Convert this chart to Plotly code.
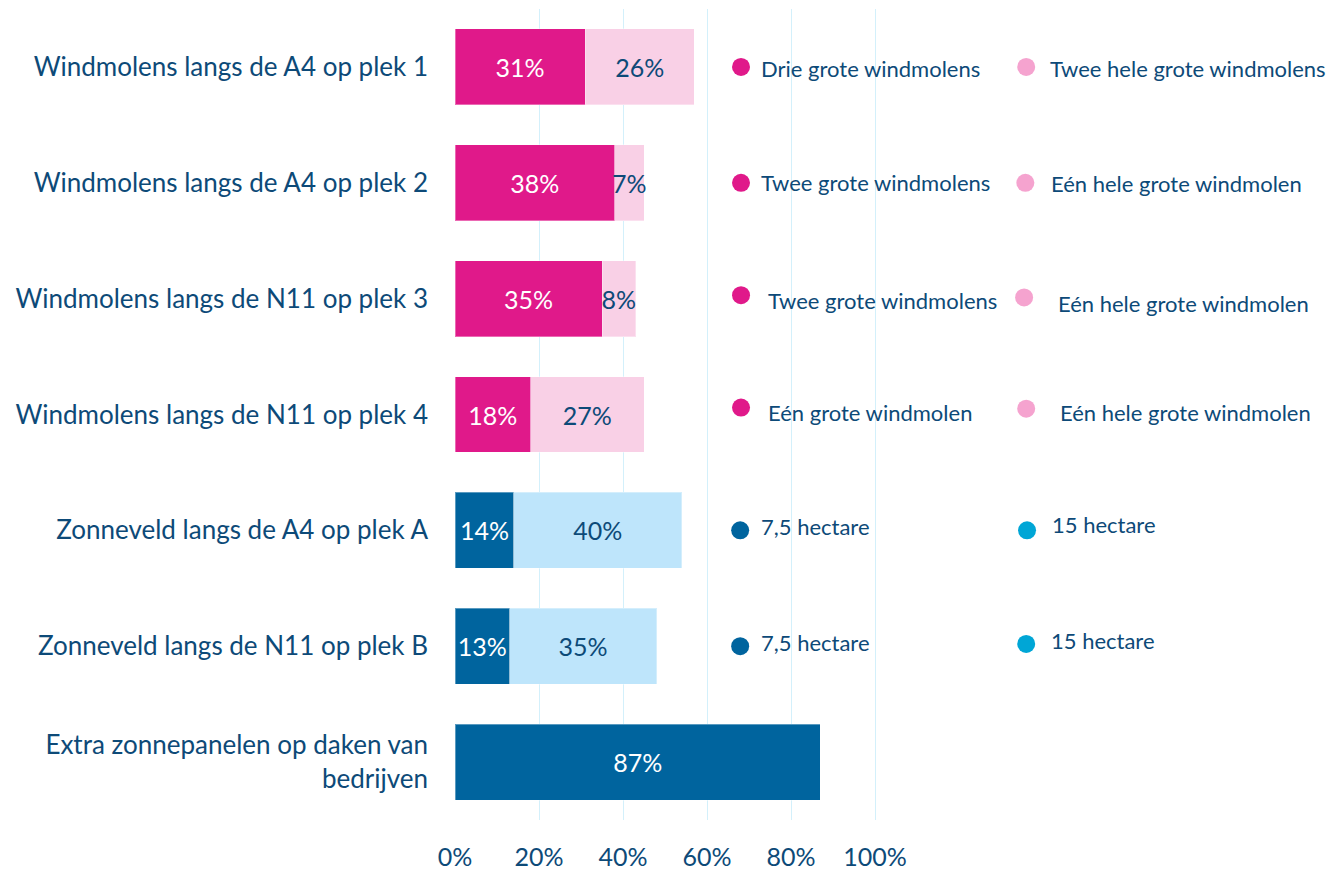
import plotly.graph_objects as go

categories = [
    "Windmolens langs de A4 op plek 1",
    "Windmolens langs de A4 op plek 2",
    "Windmolens langs de N11 op plek 3",
    "Windmolens langs de N11 op plek 4",
    "Zonneveld langs de A4 op plek A",
    "Zonneveld langs de N11 op plek B",
    "Extra zonnepanelen op daken van<br>bedrijven",
]
dark_values = [31, 38, 35, 18, 14, 13, 87]
light_values = [26, 7, 8, 27, 40, 35, None]
dark_option_labels = ["Drie grote windmolens", "Twee grote windmolens", "Twee grote windmolens",
                      "Eén grote windmolen", "7,5 hectare", "7,5 hectare", None]
light_option_labels = ["Twee hele grote windmolens", "Eén hele grote windmolen", "Eén hele grote windmolen",
                       "Eén hele grote windmolen", "15 hectare", "15 hectare", None]
tick_values = [0, 20, 40, 60, 80, 100]
tick_labels = ["0%", "20%", "40%", "60%", "80%", "100%"]

# styling
MAGENTA, PINK_BAR, PINK_DOT = "#e0198a", "#f9d0e6", "#f5a3cf"
BLUE, LBLUE_BAR, CYAN_DOT = "#00649e", "#bee5fb", "#00a6d6"
TEXT = "#0d4a78"
GRID = "#d3f0fb"
FONT = "Source Sans Pro, Lato, sans-serif"

kinds = ["wind", "wind", "wind", "wind", "sun", "sun", "sun"]
dark_colors = [MAGENTA if k == "wind" else BLUE for k in kinds]
light_colors = [PINK_BAR if k == "wind" else LBLUE_BAR for k in kinds]
dot_dark_colors = [MAGENTA if k == "wind" else BLUE for k in kinds]
dot_light_colors = [PINK_DOT if k == "wind" else CYAN_DOT for k in kinds]
light_text_colors = [TEXT for _ in kinds]

# legend layout positions (x in axis %, y offsets in category units)
dot1_x = [68.1, 68.1, 68.1, 68.1, 67.9, 67.9]
dot2_x = [136.0, 135.8, 135.5, 136.0, 136.2, 136.0]
txt1_x = [72.4, 72.4, 74.0, 74.0, 72.4, 72.4]
txt2_x = [141.2, 141.4, 143.1, 143.6, 141.6, 141.4]
dot1_dy = [0, 0, -0.03, -0.06, 0, 0]
dot2_dy = [0, 0, -0.01, -0.05, 0, -0.02]
txt_dy = [0.01, 0, 0.02, -0.02, -0.03, -0.03]
txt2_dy = [0.01, 0.01, 0.04, -0.02, -0.05, -0.05]

fig = go.Figure()
fig.add_trace(go.Bar(
    y=categories, x=dark_values, orientation="h",
    marker=dict(color=dark_colors, line=dict(color="rgba(255,255,255,0.35)", width=1)),
    text=[f"{v}%" for v in dark_values], textposition="inside", insidetextanchor="middle",
    textangle=0, constraintext="none",
    textfont=dict(color="white", size=25, family=FONT), hoverinfo="skip", showlegend=False,
))
fig.add_trace(go.Bar(
    y=categories, x=light_values, orientation="h",
    marker=dict(color=light_colors, line=dict(color="rgba(255,255,255,0.35)", width=1)),
    text=[f"{v}%" if v is not None else "" for v in light_values], textposition="inside",
    insidetextanchor="middle", textangle=0, constraintext="none",
    textfont=dict(color=light_text_colors, size=25, family=FONT), hoverinfo="skip", showlegend=False,
))

n = len(dark_option_labels) - 1
idx = list(range(n))
fig.add_trace(go.Scatter(
    x=dot1_x, y=[i + dot1_dy[i] for i in idx], yaxis="y2", mode="markers",
    marker=dict(size=18, color=dot_dark_colors[:n]), hoverinfo="skip", showlegend=False,
))
fig.add_trace(go.Scatter(
    x=dot2_x, y=[i + dot2_dy[i] for i in idx], yaxis="y2", mode="markers",
    marker=dict(size=18, color=dot_light_colors[:n]), hoverinfo="skip", showlegend=False,
))
for i in idx:
    fig.add_annotation(x=txt1_x[i], y=i + txt_dy[i], xref="x", yref="y2", text=dark_option_labels[i],
                       showarrow=False, xanchor="left", yanchor="middle",
                       font=dict(size=22, color=TEXT, family=FONT))
    fig.add_annotation(x=txt2_x[i], y=i + txt2_dy[i], xref="x", yref="y2", text=light_option_labels[i],
                       showarrow=False, xanchor="left", yanchor="middle",
                       font=dict(size=22, color=TEXT, family=FONT))

fig.update_layout(
    barmode="stack", bargap=0.345,
    width=1336, height=870,
    margin=dict(l=447, r=7, t=1, b=58),
    paper_bgcolor="white", plot_bgcolor="white",
    font=dict(family=FONT, color=TEXT),
    uniformtext=dict(minsize=24, mode="show"),
    xaxis=dict(range=[0, 210], tickvals=tick_values, ticktext=tick_labels,
               showgrid=True, gridcolor=GRID, gridwidth=1, zeroline=False,
               showline=False, ticks="", ticklabelstandoff=20, automargin=False,
               tickfont=dict(size=25, color=TEXT, family=FONT), fixedrange=True),
    yaxis=dict(autorange="reversed", showgrid=False, zeroline=False, showline=False,
               ticks="", ticklabelstandoff=26, automargin=False,
               tickfont=dict(size=26, color=TEXT, family=FONT)),
    yaxis2=dict(overlaying="y", range=[6.5, -0.5], visible=False),
)

fig.write_html("out.html")
